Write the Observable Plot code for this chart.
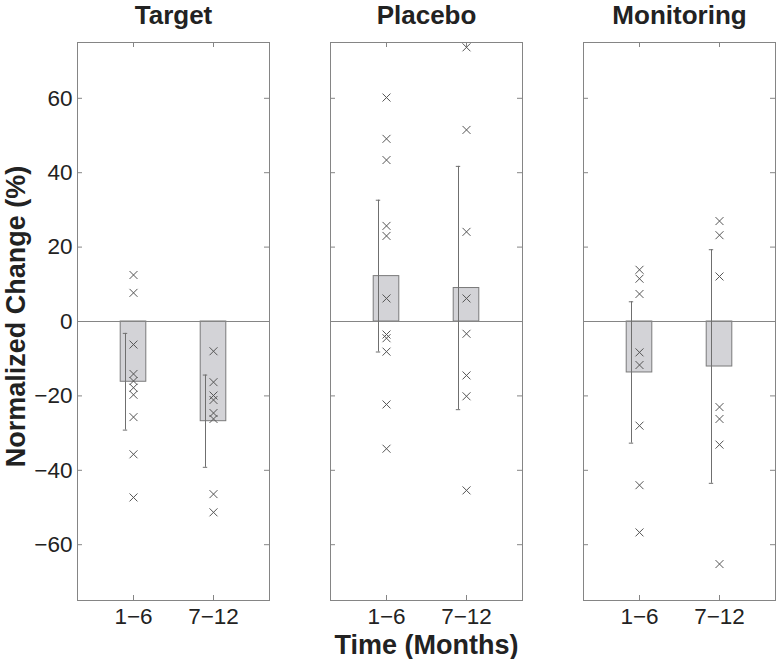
<!DOCTYPE html>
<html>
<head>
<meta charset="utf-8">
<script src="https://cdn.jsdelivr.net/npm/d3@7"></script>
<script src="https://cdn.jsdelivr.net/npm/@observablehq/plot@0.6"></script>
<style>
  html, body { margin: 0; padding: 0; background: #fff; }
  #chart { display: flex; flex-direction: row; width: 776px; height: 659px; }
  #chart svg { flex: none; max-width: none; }
</style>
</head>
<body>
<div id="chart"></div>
<script>
// ---- data ----
const groups = ["Target", "Placebo", "Monitoring"];
const periods = ["1−6", "7−12"];
const yTicks = [-60, -40, -20, 0, 20, 40, 60];

const targetMeans = [-16.2, -26.8];
const placeboMeans = [12.2, 9.0];
const monitoringMeans = [-13.7, -12.1];

const targetErr = [13.0, 12.4];
const placeboErr = [20.4, 32.7];
const monitoringErr = [19.0, 31.4];

const targetPts16 = [12.5, 7.7, -6.2, -14.1, -16.0, -17.8, -19.7, -25.7, -35.7, -47.3];
const targetPts712 = [-8.0, -16.3, -19.9, -21.1, -24.6, -26.2, -46.4, -51.3];
const placeboPts16 = [60.2, 49.1, 43.4, 25.7, 23.0, 6.2, -3.5, -4.5, -8.1, -22.3, -34.2];
const placeboPts712 = [73.7, 51.5, 24.1, 6.2, -3.3, -14.5, -20.1, -45.4];
const monitoringPts16 = [13.9, 11.5, 7.4, -8.3, -11.7, -28.0, -44.0, -56.7];
const monitoringPts712 = [27.0, 23.2, 12.1, -23.0, -26.2, -33.1, -65.2];

const allMeans = [targetMeans, placeboMeans, monitoringMeans];
const allErrs = [targetErr, placeboErr, monitoringErr];
const allPts = [[targetPts16, targetPts712], [placeboPts16, placeboPts712], [monitoringPts16, monitoringPts712]];

// ---- layout ----
const X0 = 0.3, X1 = 2.7, Y0 = -75, Y1 = 75;
const H = 659, MT = 42, MB = 59, PW = 192;
const pxX = PW / (X1 - X0);
const pxY = (H - MT - MB) / (Y1 - Y0);
const tickX = 5 / pxX, tickY = 5 / pxY;
const barHalf = 0.16, errOff = 0.1, capHalf = 2.2 / pxX;
const boxGrey = "#858585", textCol = "#222";
const font = "'Liberation Sans', Arial, Helvetica, sans-serif";

const panels = [
  {w: 300, ml: 77, mr: 31},
  {w: 253, ml: 30, mr: 31},
  {w: 223, ml: 30, mr: 1}
];

function panel(gi) {
  const {w, ml, mr} = panels[gi];
  const rows = periods.map((p, i) => ({x: i + 1, mean: allMeans[gi][i], err: allErrs[gi][i]}));
  const pts = allPts[gi].flatMap((arr, i) => arr.map(v => ({x: i + 1, v})));
  const caps = rows.flatMap(d => [{x: d.x - errOff, y: d.mean + d.err}, {x: d.x - errOff, y: d.mean - d.err}]);
  const marks = [
    Plot.rect(rows, {x1: d => d.x - barHalf, x2: d => d.x + barHalf, y1: d => 0, y2: "mean",
      fill: "#d3d3d7", stroke: "#7a7a7a", strokeWidth: 1}),
    Plot.ruleY([0], {stroke: boxGrey, strokeWidth: 1}),
    Plot.ruleX(rows, {x: d => d.x - errOff, y1: d => d.mean - d.err, y2: d => d.mean + d.err, stroke: "#6f6f6f", strokeWidth: 1}),
    Plot.ruleY(caps, {y: "y", x1: d => d.x - capHalf, x2: d => d.x + capHalf, stroke: "#6f6f6f", strokeWidth: 1}),
    Plot.dot(pts, {x: "x", y: "v", symbol: "times", r: 3.7, stroke: "#555", strokeWidth: 1}),
    Plot.frame({stroke: boxGrey, strokeWidth: 1}),
    // inward ticks
    Plot.ruleY(yTicks, {y: d => d, x1: X0, x2: X0 + tickX, stroke: boxGrey}),
    Plot.ruleY(yTicks, {y: d => d, x1: X1 - tickX, x2: X1, stroke: boxGrey}),
    Plot.ruleX([1, 2], {x: d => d, y1: Y1, y2: Y1 - tickY, stroke: boxGrey}),
    Plot.ruleX([1, 2], {x: d => d, y1: Y0, y2: Y0 + tickY, stroke: boxGrey}),
    Plot.axisX({ticks: [1, 2], tickFormat: d => periods[d - 1], tickSize: 0, tickPadding: 8,
      fontSize: 22.5, label: null, fill: textCol}),
    Plot.text([groups[gi]], {text: d => d, frameAnchor: "top", textAnchor: "middle", lineAnchor: "middle", dy: -26.5,
      fontSize: 26, fontWeight: "bold", fill: textCol})
  ];
  if (gi === 0) {
    marks.push(Plot.axisY({ticks: yTicks, tickSize: 0, tickPadding: 5, fontSize: 22.5, label: null, fill: textCol}));
    marks.push(Plot.text(["Normalized Change (%)"], {text: d => d, frameAnchor: "left", textAnchor: "middle", rotate: -90,
      lineAnchor: "middle", dx: -61.5, dy: -5, fontSize: 27, fontWeight: "bold", fill: textCol}));
  }
  if (gi === 1) {
    marks.push(Plot.text(["Time (Months)"], {text: d => d, frameAnchor: "bottom", textAnchor: "middle", lineAnchor: "middle",
      dy: 44.4, fontSize: 27, fontWeight: "bold", fill: textCol}));
  }
  return Plot.plot({
    width: w, height: H,
    marginLeft: ml, marginRight: mr, marginTop: MT, marginBottom: MB,
    x: {domain: [X0, X1]},
    y: {domain: [Y0, Y1], axis: gi === 0 ? undefined : null},
    style: {fontFamily: font, color: textCol, background: "#fff", overflow: "visible"},
    marks
  });
}

const root = document.getElementById("chart");
groups.forEach((g, i) => root.appendChild(panel(i)));
</script>
</body>
</html>
